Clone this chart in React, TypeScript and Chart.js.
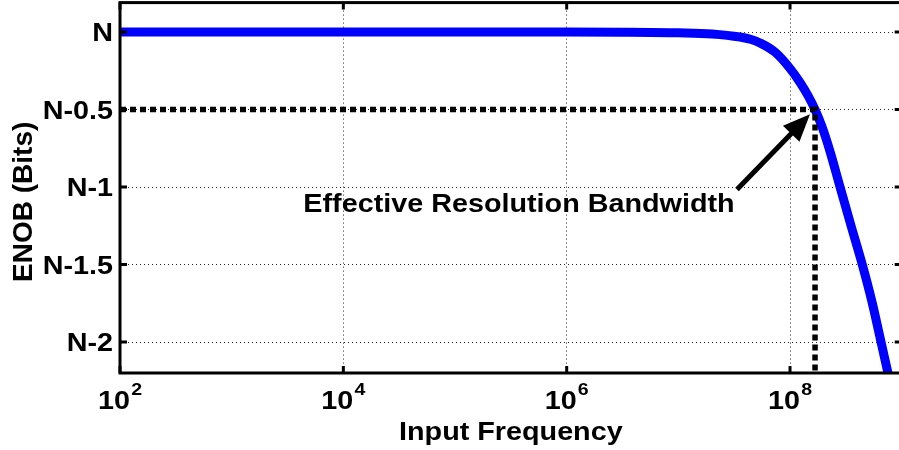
import React, { useEffect, useRef } from "react";
import { Chart, registerables } from "chart.js";

Chart.register(...registerables);

// ---- data (N = 0) ----
const FREQ = [1e2, 1e3, 1e4, 1e5, 1e6, 3.16e6, 1e7, 2e7, 3.565e7, 4.5e7, 5.383e7, 7.345e7, 1.0e8, 1.23e8, 1.449e8, 1.675e8, 1.932e8, 2.28e8, 2.805e8, 3.516e8, 4.416e8, 5.42e8, 6.531e8, 7.534e8, 8.11e8];
const ENOB = [0, 0, 0, 0, 0, -0.001, -0.005, -0.012, -0.032, -0.048, -0.07, -0.13, -0.235, -0.325, -0.41, -0.5, -0.61, -0.77, -1.0, -1.249, -1.495, -1.741, -2.0, -2.2, -2.3];

const ERBW_X = [1e2, 1.675e8, 1.675e8];
const ERBW_Y = [-0.5, -0.5, -2.2];

const X_TICKS = [1e2, 1e4, 1e6, 1e8];
const X_BASE = ["10", "10", "10", "10"];
const X_EXP = ["2", "4", "6", "8"];
const Y_TICKS = [0, -0.5, -1, -1.5, -2];
const Y_LABELS = ["N", "N-0.5", "N-1", "N-1.5", "N-2"];

const X_MIN = 1e2;
const X_MAX = 1e9;
const Y_MIN = -2.2;
const Y_MAX = 0.19;

const X_TITLE = "Input Frequency";
const Y_TITLE = "ENOB (Bits)";
const NOTE = "Effective Resolution Bandwidth";
const NOTE_AT = [3.74e5, -1.159];
const ARROW_FROM = [3.35e7, -1.016];
const ARROW_TO = [1.51e8, -0.531];

const STRETCH = 1.15;
const FONT = '"Liberation Sans", Arial, Helvetica, sans-serif';

function txt(
  ctx: CanvasRenderingContext2D,
  s: string,
  x: number,
  y: number,
  size: number,
  align: CanvasTextAlign,
  rot = 0,
  stretch = STRETCH
) {
  ctx.save();
  ctx.translate(x, y);
  ctx.scale(stretch, 1);
  if (rot) ctx.rotate(rot);
  ctx.font = `bold ${size}px ${FONT}`;
  ctx.textAlign = align;
  ctx.textBaseline = "alphabetic";
  ctx.fillStyle = "#000";
  ctx.fillText(s, 0, 0);
  ctx.restore();
}

const framePlugin = {
  id: "frame",
  afterDatasetsDraw(chart: any) {
    const ctx: CanvasRenderingContext2D = chart.ctx;
    const { left, right, top, bottom } = chart.chartArea;
    const xs = chart.scales.x;
    const ys = chart.scales.y;

    // arrow
    const fx = xs.getPixelForValue(ARROW_FROM[0]);
    const fy = ys.getPixelForValue(ARROW_FROM[1]);
    const tx = xs.getPixelForValue(ARROW_TO[0]);
    const ty = ys.getPixelForValue(ARROW_TO[1]);
    const ang = Math.atan2(ty - fy, tx - fx);
    const headLen = 27;
    const headHalf = 11.5;
    const bx = tx - headLen * Math.cos(ang);
    const by = ty - headLen * Math.sin(ang);
    ctx.save();
    ctx.strokeStyle = "#000";
    ctx.fillStyle = "#000";
    ctx.lineWidth = 5;
    ctx.beginPath();
    ctx.moveTo(fx, fy);
    ctx.lineTo(bx + 2 * Math.cos(ang), by + 2 * Math.sin(ang));
    ctx.stroke();
    ctx.beginPath();
    ctx.moveTo(tx, ty);
    ctx.lineTo(bx - headHalf * Math.sin(ang), by + headHalf * Math.cos(ang));
    ctx.lineTo(bx + headHalf * Math.sin(ang), by - headHalf * Math.cos(ang));
    ctx.closePath();
    ctx.fill();
    ctx.restore();

    // note
    txt(ctx, NOTE, xs.getPixelForValue(NOTE_AT[0]), ys.getPixelForValue(NOTE_AT[1]), 25, "center");

    // box
    ctx.save();
    ctx.strokeStyle = "#000";
    ctx.lineWidth = 3;
    ctx.strokeRect(left, top, right - left, bottom - top);
    // inner tick marks
    const tl = 7;
    ctx.beginPath();
    for (const v of Y_TICKS) {
      const y = ys.getPixelForValue(v);
      ctx.moveTo(left, y);
      ctx.lineTo(left + tl, y);
      ctx.moveTo(right, y);
      ctx.lineTo(right - tl, y);
    }
    for (const v of X_TICKS) {
      const x = xs.getPixelForValue(v);
      ctx.moveTo(x, bottom);
      ctx.lineTo(x, bottom - tl);
      ctx.moveTo(x, top);
      ctx.lineTo(x, top + tl);
    }
    ctx.stroke();
    ctx.restore();

    // y tick labels
    Y_TICKS.forEach((v, i) => {
      txt(ctx, Y_LABELS[i], left - 7, ys.getPixelForValue(v) + 9, 25, "right");
    });

    // x tick labels with superscript
    X_TICKS.forEach((v, i) => {
      const x = xs.getPixelForValue(v);
      ctx.save();
      ctx.font = `bold 25px ${FONT}`;
      const wb = ctx.measureText(X_BASE[i]).width;
      ctx.font = `bold 17px ${FONT}`;
      const we = ctx.measureText(X_EXP[i]).width;
      ctx.restore();
      const total = (wb + we + 1) * STRETCH;
      const start = x - total / 2;
      txt(ctx, X_BASE[i], start, bottom + 36, 25, "left");
      txt(ctx, X_EXP[i], start + (wb + 1) * STRETCH, bottom + 22, 17, "left");
    });

    // axis titles
    txt(ctx, X_TITLE, (left + right) / 2, bottom + 67, 25, "center");
    txt(ctx, Y_TITLE, 32, (top + bottom) / 2 + 14, 28, "center", -Math.PI / 2, 1);
  },
};

export default function App() {
  const ref = useRef<HTMLCanvasElement>(null);
  useEffect(() => {
    const canvas = ref.current!;
    const chart = new Chart(canvas, {
      type: "line",
      data: {
        datasets: [
          {
            data: ERBW_X.map((x, i) => ({ x, y: ERBW_Y[i] })),
            borderColor: "#000",
            borderWidth: 5.5,
            borderDash: [6, 4],
            pointRadius: 0,
            tension: 0,
            clip: 0,
          } as any,
          {
            data: FREQ.map((x, i) => ({ x, y: ENOB[i] })),
            borderColor: "#0000ff",
            borderWidth: 9,
            pointRadius: 0,
            cubicInterpolationMode: "monotone",
            clip: 0,
          } as any,
        ],
      },
      options: {
        responsive: false,
        animation: false,
        devicePixelRatio: 1,
        layout: { padding: { left: 120, right: 3.3, top: 2.6, bottom: 77 } },
        plugins: { legend: { display: false }, tooltip: { enabled: false } },
        scales: {
          x: {
            type: "logarithmic",
            min: X_MIN,
            max: X_MAX,
            afterBuildTicks: (s: any) => {
              s.ticks = X_TICKS.map((value) => ({ value }));
            },
            ticks: { display: false },
            grid: { color: "#222", lineWidth: 1, drawTicks: false },
            border: { display: false, dash: [1, 3] },
          },
          y: {
            type: "linear",
            min: Y_MIN,
            max: Y_MAX,
            afterBuildTicks: (s: any) => {
              s.ticks = Y_TICKS.map((value) => ({ value }));
            },
            ticks: { display: false },
            grid: { color: "#222", lineWidth: 1, drawTicks: false },
            border: { display: false, dash: [1, 3] },
          },
        },
      },
      plugins: [framePlugin],
    } as any);
    return () => chart.destroy();
  }, []);
  return (
    <div
      style={{
        position: "fixed",
        left: 0,
        top: 0,
        width: 899,
        height: 450,
        overflow: "hidden",
        background: "#fff",
      }}
    >
      <canvas ref={ref} width={905} height={450} style={{ display: "block" }} />
    </div>
  );
}
